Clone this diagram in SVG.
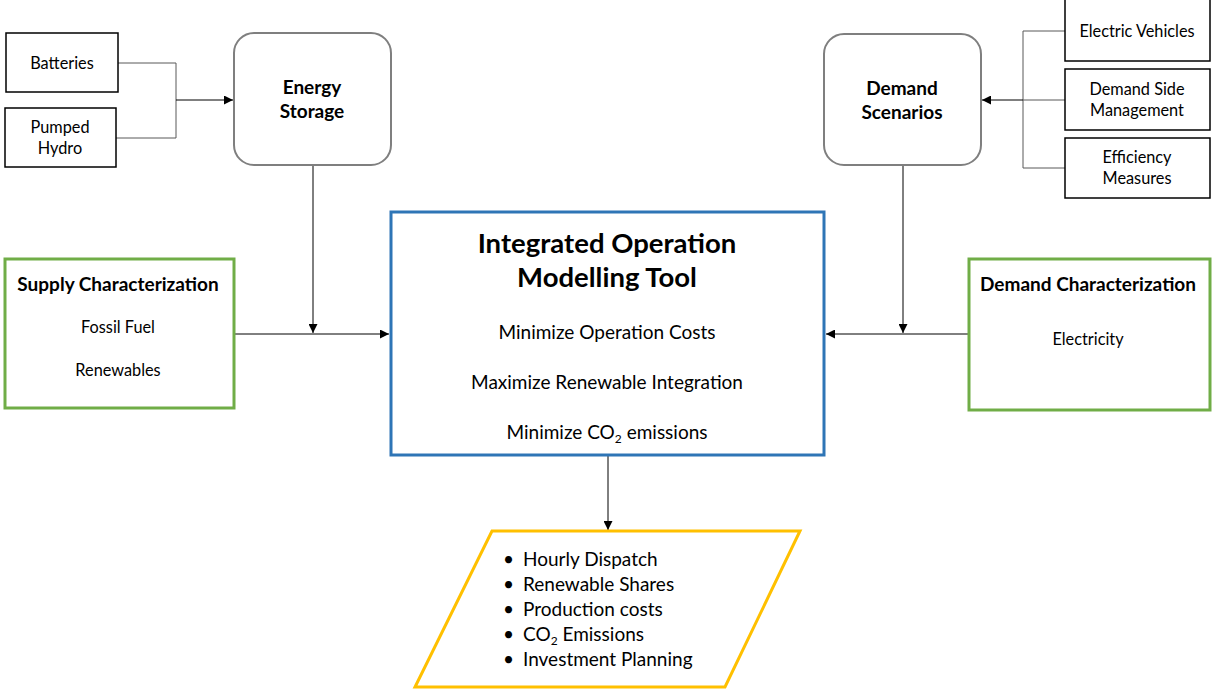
<svg xmlns="http://www.w3.org/2000/svg" width="1212" height="690" viewBox="0 0 1212 690">
<defs>
<marker id="ah" viewBox="0 0 10 10" refX="10" refY="5" markerWidth="9" markerHeight="9" markerUnits="userSpaceOnUse" orient="auto"><path d="M0,0 L10,5 L0,10 z" fill="#000"/></marker>
<style>
text{font-family:Lato,"Open Sans","Liberation Sans",sans-serif;fill:#000;text-anchor:middle}
.sm{font-size:16.3px}
.md{font-size:19px}
.bd{font-size:19px;font-weight:bold}
.ttl{font-size:27.5px;font-weight:bold}
.blt{font-size:19px;text-anchor:start}
.box{fill:#fff;stroke:#000;stroke-width:1.5}
.rnd{fill:#fff;stroke:#7f7f7f;stroke-width:2}
.grn{fill:#fff;stroke:#70ad47;stroke-width:3}
.blu{fill:#fff;stroke:#2e75b6;stroke-width:3}
.yel{fill:#fff;stroke:#ffc000;stroke-width:3}
.ln{fill:none;stroke:#595959;stroke-width:1}
.ar{fill:none;stroke:#000;stroke-width:1;marker-end:url(#ah)}
</style>
</defs>
<rect width="1212" height="690" fill="#fff"/>
<g id="connectors">
<path class="ln" d="M118,63 H176 V138 H116"/>
<path class="ar" d="M176,100 H233"/>
<path class="ar" d="M313,166 V333"/>
<path class="ar" d="M235,334 H389"/>
<path class="ln" d="M1065,31 H1023 V168 H1065"/>
<path class="ln" d="M1065,100 H1023"/>
<path class="ar" d="M1023,100 H982"/>
<path class="ar" d="M903,166 V333"/>
<path class="ar" d="M968,334 H826"/>
<path class="ar" d="M608,456 V530"/>
</g>
<g id="batteries"><rect class="box" x="6" y="33" width="112" height="59"/><text class="sm" x="62" y="69">Batteries</text></g>
<g id="pumped-hydro"><rect class="box" x="5" y="108" width="111" height="59"/><text class="sm" x="60" y="133">Pumped</text><text class="sm" x="60" y="154">Hydro</text></g>
<g id="energy-storage"><rect class="rnd" x="234" y="33" width="157" height="132" rx="20"/><text class="bd" x="312" y="94">Energy</text><text class="bd" x="312" y="118">Storage</text></g>
<g id="demand-scenarios"><rect class="rnd" x="824" y="34" width="157" height="131" rx="20"/><text class="bd" x="902" y="95">Demand</text><text class="bd" x="902" y="119">Scenarios</text></g>
<g id="electric-vehicles"><rect class="box" x="1065" y="-1" width="145" height="62"/><text class="sm" x="1137" y="37">Electric Vehicles</text></g>
<g id="demand-side-management"><rect class="box" x="1065" y="69" width="145" height="61"/><text class="sm" x="1137" y="95">Demand Side</text><text class="sm" x="1137" y="116">Management</text></g>
<g id="efficiency-measures"><rect class="box" x="1065" y="138" width="145" height="60"/><text class="sm" x="1137" y="163">Efficiency</text><text class="sm" x="1137" y="184">Measures</text></g>
<g id="supply-characterization"><rect class="grn" x="5" y="259" width="229" height="149"/><text class="bd" x="118" y="291">Supply Characterization</text><text class="sm" x="118" y="333">Fossil Fuel</text><text class="sm" x="118" y="376">Renewables</text></g>
<g id="demand-characterization"><rect class="grn" x="969" y="259" width="241" height="151"/><text class="bd" x="1088" y="291">Demand Characterization</text><text class="sm" x="1088" y="345">Electricity</text></g>
<g id="integrated-tool"><rect class="blu" x="391" y="212" width="433" height="243"/>
<text class="ttl" x="607" y="253">Integrated Operation</text><text class="ttl" x="607" y="287">Modelling Tool</text>
<text class="md" x="607" y="339">Minimize Operation Costs</text>
<text class="md" x="607" y="389">Maximize Renewable Integration</text>
<text class="md" x="607" y="439">Minimize CO<tspan font-size="12" dy="4">2</tspan><tspan dy="-4"> emissions</tspan></text></g>
<g id="outputs"><polygon class="yel" points="492,531 800,531 725,687 415,687"/>
<text class="blt" x="503" y="566">•</text><text class="blt" x="523" y="566">Hourly Dispatch</text>
<text class="blt" x="503" y="591">•</text><text class="blt" x="523" y="591">Renewable Shares</text>
<text class="blt" x="503" y="616">•</text><text class="blt" x="523" y="616">Production costs</text>
<text class="blt" x="503" y="641">•</text><text class="blt" x="523" y="641">CO<tspan font-size="12" dy="4">2</tspan><tspan dy="-4"> Emissions</tspan></text>
<text class="blt" x="503" y="666">•</text><text class="blt" x="523" y="666">Investment Planning</text>
</g>
</svg>
